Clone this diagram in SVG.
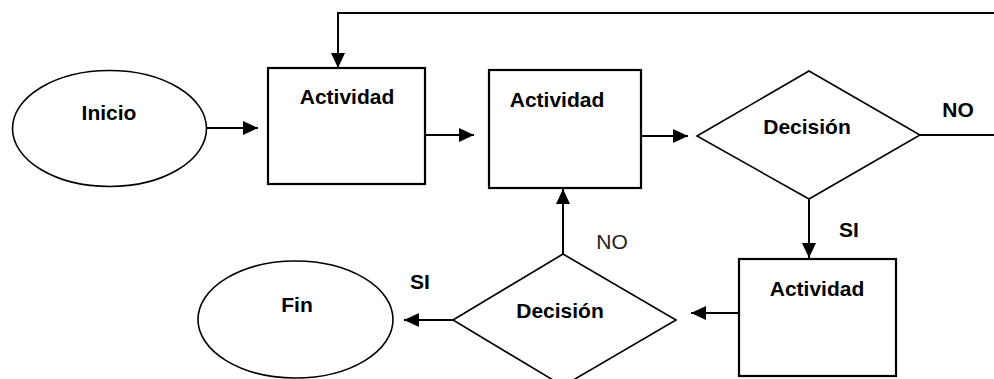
<svg xmlns="http://www.w3.org/2000/svg" width="994" height="379" viewBox="0 0 994 379">
<defs>
<style>
.shape{fill:#fff;stroke:#000;stroke-width:1.6}
.box{fill:#fff;stroke:#000;stroke-width:2.2}
.conn{fill:none;stroke:#000;stroke-width:2}
.lbl{font-family:"Liberation Sans",Arial,sans-serif;font-weight:bold;font-size:21px;fill:#000;text-anchor:middle}
.lbl2{font-family:"Liberation Sans",Arial,sans-serif;font-size:21px;fill:#222;text-anchor:middle}
</style>
<marker id="arr" markerUnits="userSpaceOnUse" markerWidth="15" markerHeight="14" refX="15" refY="7" orient="auto">
<path d="M0,0 L15,7 L0,14 z" fill="#000"/>
</marker>
</defs>
<rect width="994" height="379" fill="#fff"/>
<g id="connectors">
<path class="conn" d="M207,128 H258" marker-end="url(#arr)"/>
<path class="conn" d="M425,135 H474" marker-end="url(#arr)"/>
<path class="conn" d="M638,136 H688" marker-end="url(#arr)"/>
<path class="conn" d="M920,135 H994"/>
<path class="conn" d="M994,13 H338 V68" marker-end="url(#arr)"/>
<path class="conn" d="M809,199 V258" marker-end="url(#arr)"/>
<path class="conn" d="M739,313 H691" marker-end="url(#arr)"/>
<path class="conn" d="M563,254 V189" marker-end="url(#arr)"/>
<path class="conn" d="M453,320 H404" marker-end="url(#arr)"/>
</g>
<g id="inicio">
<ellipse class="shape" cx="109.5" cy="128.5" rx="97" ry="58"/>
<text class="lbl" x="109" y="120">Inicio</text>
</g>
<g id="actividad1">
<rect class="box" x="268" y="68" width="157" height="116"/>
<text class="lbl" x="347" y="104">Actividad</text>
</g>
<g id="actividad2">
<rect class="box" x="489" y="70" width="152" height="118"/>
<text class="lbl" x="557" y="107">Actividad</text>
</g>
<g id="decision1">
<polygon class="shape" points="697,136 809,71 920,135 809,199"/>
<text class="lbl" x="807" y="134">Decisión</text>
</g>
<text class="lbl" x="958" y="117">NO</text>
<text class="lbl" x="849" y="237">SI</text>
<g id="actividad3">
<rect class="box" x="739" y="259" width="157" height="117"/>
<text class="lbl" x="817" y="296">Actividad</text>
</g>
<g id="decision2">
<polygon class="shape" points="453,320 563,254 676,320 563,386"/>
<text class="lbl" x="560" y="318">Decisión</text>
</g>
<text class="lbl2" x="612" y="249">NO</text>
<text class="lbl" x="420" y="289">SI</text>
<g id="fin">
<ellipse class="shape" cx="295.5" cy="319.5" rx="97.5" ry="58.5"/>
<text class="lbl" x="297" y="312">Fin</text>
</g>
</svg>
